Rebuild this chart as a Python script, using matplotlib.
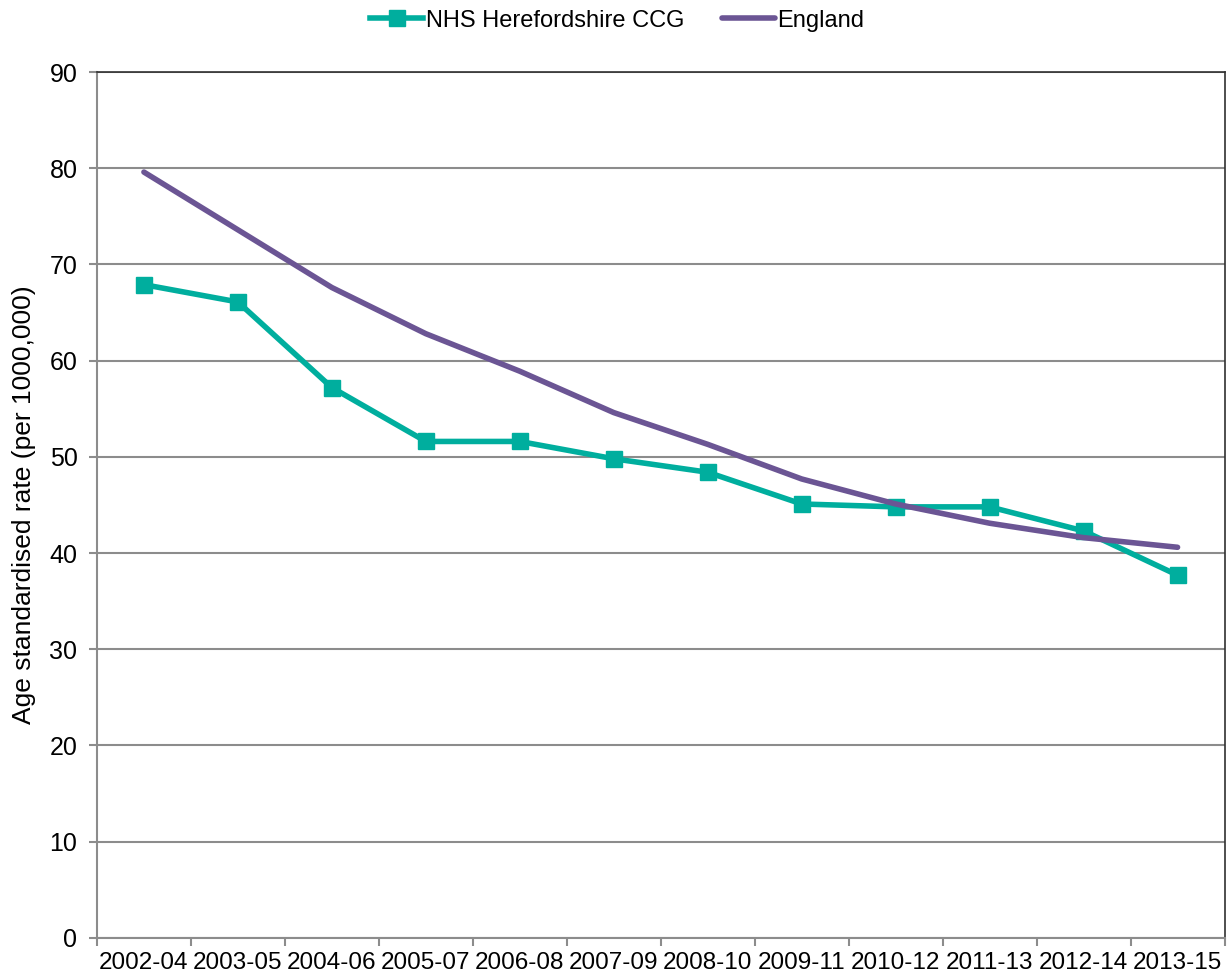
import matplotlib
matplotlib.use("Agg")
import matplotlib.pyplot as plt
import numpy as np

plt.rcParams['font.family'] = ['Liberation Sans', 'DejaVu Sans']

periods = ['2002-04', '2003-05', '2004-06', '2005-07', '2006-08', '2007-09',
           '2008-10', '2009-11', '2010-12', '2011-13', '2012-14', '2013-15']
hereford = [67.9, 66.1, 57.2, 51.6, 51.6, 49.8, 48.4, 45.1, 44.8, 44.8, 42.3, 37.7]
england = [79.6, 73.6, 67.6, 62.8, 58.9, 54.6, 51.3, 47.7, 45.1, 43.1, 41.6, 40.6]

teal = '#00AE9E'
purple = '#6B5594'
grey = '#8C8C8C'

fig = plt.figure(figsize=(12.27, 9.8), dpi=100)
ax = fig.add_axes([0.079, 0.043, 0.919, 0.8835])

x = np.arange(len(periods))
ax.plot(x, hereford, color=teal, lw=4, marker='s', ms=11, label='NHS Herefordshire CCG', zorder=3)
ax.plot(x, england, color=purple, lw=4, solid_capstyle='round', label='England', zorder=3)

ax.set_xlim(-0.5, len(periods) - 0.5)
ax.set_ylim(0, 90)
ax.set_yticks(np.arange(0, 91, 10))
ax.yaxis.grid(True, color=grey, lw=1.5)
ax.set_axisbelow(True)

# category boundaries get the tick marks, labels sit in the middle
ax.set_xticks(np.arange(-0.5, len(periods)), minor=False)
ax.set_xticklabels([])
ax.set_xticks(x, minor=True)
ax.set_xticklabels(periods, minor=True)
ax.tick_params(axis='x', which='minor', length=0, labelsize=17.5, pad=10)
ax.tick_params(axis='x', which='major', length=6, width=1.5, color=grey)
ax.tick_params(axis='y', length=6, width=1.5, color=grey, labelsize=18, pad=8)

for s in ['left', 'bottom']:
    ax.spines[s].set_color(grey)
    ax.spines[s].set_linewidth(1.5)
for s in ['right', 'top']:
    ax.spines[s].set_color('#303030')
    ax.spines[s].set_linewidth(1.2)

ax.set_ylabel('Age standardised rate (per 1000,000)', fontsize=19, labelpad=10)

ax.legend(loc='center', bbox_to_anchor=(0.503, 0.979), bbox_transform=fig.transFigure,
          ncol=2, frameon=False, fontsize=17, handlelength=2.25, columnspacing=1.6,
          handletextpad=0.1)

fig.savefig('out.png', dpi=100)
